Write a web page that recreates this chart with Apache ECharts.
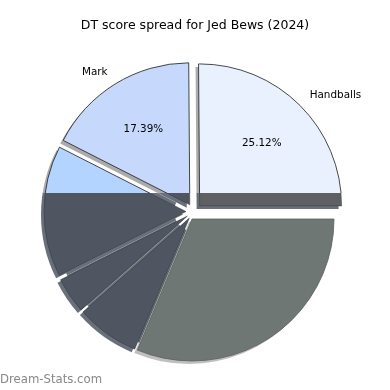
<!DOCTYPE html>
<html><head><meta charset="utf-8">
<script src="https://cdn.jsdelivr.net/npm/echarts@6/dist/echarts.min.js"></script>
<style>html,body{margin:0;padding:0;background:#fff}#c{width:390px;height:390px}</style>
</head><body><div id="c"></div>
<script>
// ---- data ----
const categories = ['Handballs', 'Mark', 'Tackle', 'Hitout', 'Goal', 'Kick'];
const shares = [25.12, 17.39, 14.90, 4.10, 7.20, 31.29];
const labelledNames = ['Handballs', 'Mark'];
const titleText = 'DT score spread for Jed Bews (2024)';
const watermarkText = 'Dream-Stats.com';

// ---- styles ----
const lightColors = ['#eaf1fe', '#c6d9fd', '#b3d4fe', '#b3d4fe', '#b3d4fe', '#6f7774'];
const darkColors  = ['#5f6064', '#4f5661', '#4f5661', '#4f5661', '#4f5661', '#6f7774'];
const backdropNames = ['Tackle', 'Hitout', 'Goal'];
const FONT = 'DejaVu Sans';
const R = 142, CX = 194, CY = 211.6, EXPLODE = 8, CUT_Y = 193, H = 390;
const SH_X = -3, SH_Y = 3;
const detached = 'Kick';
const DETACHED_CENTER = [192, 219];

const total = shares.reduce((a, b) => a + b, 0);
let acc = 0;
const midAngles = shares.map(v => { const m = (acc + v / 2) / total * 2 * Math.PI; acc += v; return m; });

function cutFill(i, light, dark, shifted) {
  const dy = shifted ? -Math.sin(midAngles[i]) * EXPLODE : 0;
  const t = Math.min(1, Math.max(0, (CUT_Y - dy) / H));
  return new echarts.graphic.LinearGradient(0, 0, 0, H, [
    { offset: 0, color: light }, { offset: t, color: light },
    { offset: t, color: dark }, { offset: 1, color: dark }
  ], true);
}
const clear = { color: 'rgba(0,0,0,0)', borderWidth: 0 };

function buildData(mode) {
  return categories.map((name, i) => {
    const inA = name !== detached;
    const own = mode.startsWith('A') ? inA : (mode.startsWith('B') ? !inA : true);
    const item = { name, value: shares[i], selected: (mode.startsWith('A') || mode === 'C') && inA, label: { show: false } };
    if (mode === 'A') {
      item.itemStyle = own ? { color: cutFill(i, lightColors[i], darkColors[i], true),
        borderColor: cutFill(i, '#1a1a1a', 'rgba(45,50,56,0.6)', true), borderWidth: 0.8 } : clear;
      item.label = { show: own && labelledNames.includes(name) };
    } else if (mode === 'Ashadow') {
      item.itemStyle = own ? { color: cutFill(i, 'rgba(0,0,0,0.33)', '#69707a', true), borderWidth: 0 } : clear;
    } else if (mode === 'B') {
      item.itemStyle = own ? { color: darkColors[i], borderColor: '#5a605e', borderWidth: 0.8 } : clear;
    } else if (mode === 'Bshadow') {
      item.itemStyle = own ? { color: 'rgba(0,0,0,0.25)', borderWidth: 0 } : clear;
    } else if (mode === 'Backdrop') {
      item.itemStyle = backdropNames.includes(name)
        ? { color: cutFill(i, 'rgba(0,0,0,0)', '#6a7079', false), borderWidth: 0 } : clear;
    } else {
      item.itemStyle = clear;
      item.label = { show: labelledNames.includes(name) };
    }
    return item;
  });
}

const common = {
  type: 'pie', startAngle: 0, clockwise: false, silent: true, animation: false,
  avoidLabelOverlap: false, emphasis: { disabled: true }, percentPrecision: 2,
  label: { show: false }, labelLine: { show: false }
};

const chart = echarts.init(document.getElementById('c'), null, { renderer: 'canvas' });
chart.setOption({
  backgroundColor: '#fff',
  title: [
    { text: titleText, left: 'center', top: 14,
      textStyle: { fontFamily: FONT, fontSize: 12.5, fontWeight: 'normal', color: '#000' } },
    { text: watermarkText, left: 0, top: 374, padding: 0,
      textStyle: { fontFamily: FONT, fontSize: 11.7, fontWeight: 'normal', color: '#888' } }
  ],
  series: [
    Object.assign({}, common, {
      z: 0, center: [CX, CY], radius: [20, R], data: buildData('Backdrop')
    }),
    Object.assign({}, common, {
      z: 0, center: [DETACHED_CENTER[0] + SH_X, DETACHED_CENTER[1] + SH_Y], radius: R, data: buildData('Bshadow')
    }),
    Object.assign({}, common, {
      z: 0, center: [CX + SH_X, CY + SH_Y], radius: R, selectedMode: 'multiple', selectedOffset: EXPLODE,
      data: buildData('Ashadow')
    }),
    Object.assign({}, common, {
      z: 1, center: DETACHED_CENTER, radius: R, data: buildData('B')
    }),
    Object.assign({}, common, {
      z: 2, center: [CX, CY], radius: R, selectedMode: 'multiple', selectedOffset: EXPLODE,
      label: { show: true, position: 'outside', formatter: '{b}', color: '#000', fontFamily: FONT, fontSize: 10.4, distanceToLabelLine: 0 },
      labelLine: { show: false, length: 0.1 * R, length2: 0 },
      data: buildData('A')
    }),
    Object.assign({}, common, {
      z: 3, center: [CX, CY], radius: [0.2 * R, R], selectedMode: 'multiple', selectedOffset: EXPLODE,
      label: { show: true, position: 'inside', formatter: '{d}%', color: '#000', fontFamily: FONT, fontSize: 10.4 },
      data: buildData('C')
    })
  ]
});
</script>
</body></html>
